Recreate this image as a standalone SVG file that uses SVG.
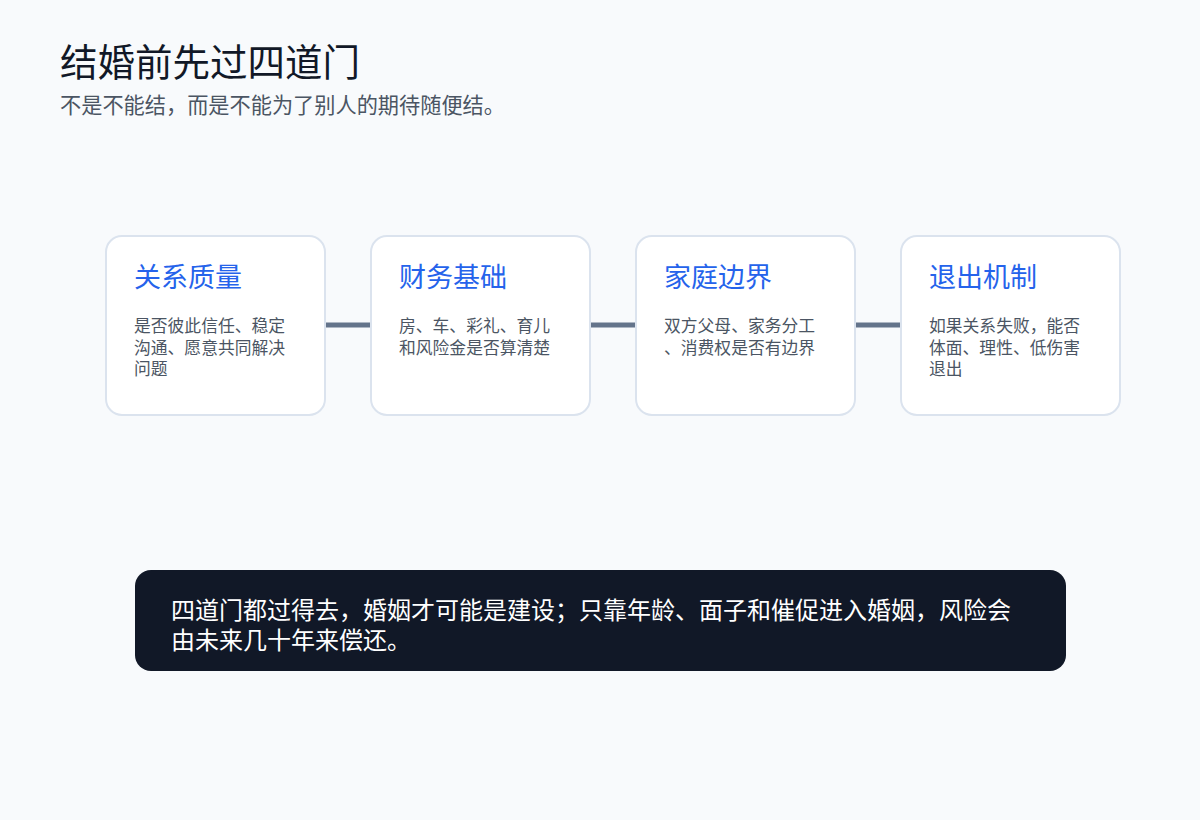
<svg xmlns="http://www.w3.org/2000/svg" width="1200" height="820" viewBox="0 0 1200 820">
<style>
text{font-family:"Noto Sans CJK SC","Noto Sans",sans-serif;}
.card{fill:#ffffff;stroke:#dbe3ee;stroke-width:2;}
.ct{font-size:27px;fill:#2563eb;}
.cb{font-size:16.8px;fill:#4b5563;}
.conn{stroke:#64748b;stroke-width:5;}
</style>
<rect x="0" y="0" width="1200" height="820" fill="#f8fafc"/>
<g id="header">
<text x="60" y="76" font-size="37.5" fill="#111827">结婚前先过四道门</text>
<text x="60" y="113" font-size="21.2" fill="#4b5563">不是不能结，而是不能为了别人的期待随便结。</text>
</g>
<g id="connectors">
<line class="conn" x1="325" y1="325" x2="371" y2="325"/>
<line class="conn" x1="590" y1="325" x2="636" y2="325"/>
<line class="conn" x1="855" y1="325" x2="901" y2="325"/>
</g>
<g id="node1">
<rect class="card" x="106" y="236" width="219" height="179" rx="16"/>
<text class="ct" x="134" y="287">关系质量</text>
<text class="cb" x="134" y="332">是否彼此信任、稳定</text>
<text class="cb" x="134" y="353.5">沟通、愿意共同解决</text>
<text class="cb" x="134" y="375">问题</text>
</g>
<g id="node2">
<rect class="card" x="371" y="236" width="219" height="179" rx="16"/>
<text class="ct" x="399" y="287">财务基础</text>
<text class="cb" x="399" y="332">房、车、彩礼、育儿</text>
<text class="cb" x="399" y="353.5">和风险金是否算清楚</text>
</g>
<g id="node3">
<rect class="card" x="636" y="236" width="219" height="179" rx="16"/>
<text class="ct" x="664" y="287">家庭边界</text>
<text class="cb" x="664" y="332">双方父母、家务分工</text>
<text class="cb" x="664" y="353.5">、消费权是否有边界</text>
</g>
<g id="node4">
<rect class="card" x="901" y="236" width="219" height="179" rx="16"/>
<text class="ct" x="929" y="287">退出机制</text>
<text class="cb" x="929" y="332">如果关系失败，能否</text>
<text class="cb" x="929" y="353.5">体面、理性、低伤害</text>
<text class="cb" x="929" y="375">退出</text>
</g>
<g id="summary">
<rect x="135" y="570" width="931" height="101" rx="16" fill="#111827"/>
<text x="171" y="619" font-size="24" fill="#ffffff" textLength="840" lengthAdjust="spacingAndGlyphs">四道门都过得去，婚姻才可能是建设；只靠年龄、面子和催促进入婚姻，风险会</text>
<text x="171" y="649" font-size="24" fill="#ffffff">由未来几十年来偿还。</text>
</g>
</svg>
